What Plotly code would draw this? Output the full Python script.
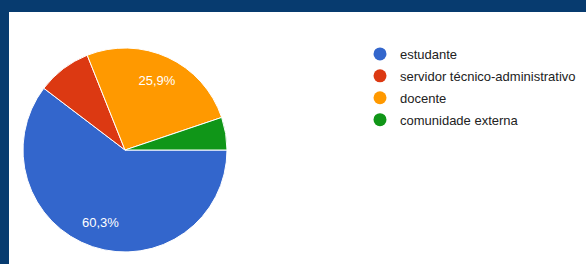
import plotly.graph_objects as go

categories = ["estudante", "servidor técnico-administrativo", "docente", "comunidade externa"]
counts = [35, 5, 15, 3]
colors = ["#3366cc", "#dc3912", "#ff9900", "#109618"]
label_templates = ["%{percent:.1%}", "", "%{percent:.1%}", ""]

W, H = 586, 264
pie_domain = dict(x=[23 / W, 227 / W], y=[1 - 252 / H, 1 - 48 / H])
fig = go.Figure()

# filled pie
fig.add_trace(go.Pie(
    labels=categories, values=counts, sort=False, direction="clockwise", rotation=90,
    marker=dict(colors=colors, line=dict(color="white", width=1)),
    textinfo="none", domain=pie_domain, showlegend=False, hoverinfo="label+percent",
))
# transparent ring carrying the percentage labels (placed at ~0.75 R like the original)
fig.add_trace(go.Pie(
    labels=categories, values=counts, sort=False, direction="clockwise", rotation=90, hole=0.5,
    marker=dict(colors=["rgba(0,0,0,0)"] * 4, line=dict(width=0)),
    texttemplate=label_templates, textposition="inside", insidetextorientation="horizontal",
    textfont=dict(color="white", size=13, family="Liberation Sans, Arial"),
    domain=pie_domain, showlegend=False, hoverinfo="skip",
))

for i, (name, c) in enumerate(zip(categories, colors)):
    fig.add_trace(go.Scatter(
        x=[None], y=[None], mode="markers", name=name, legendgroup=f"g{i}",
        marker=dict(symbol="circle", size=13, color=c),
    ))

fig.update_layout(
    width=W, height=H, margin=dict(l=0, r=0, t=0, b=0),
    paper_bgcolor="#073b6f", plot_bgcolor="rgba(0,0,0,0)",
    separators=",.",
    xaxis=dict(visible=False), yaxis=dict(visible=False),
    shapes=[dict(type="rect", xref="paper", yref="paper", x0=9 / W, x1=1.01, y0=-0.01, y1=1 - 12 / H,
                 fillcolor="white", line=dict(width=0), layer="below")],
    legend=dict(x=360 / W, y=1 - 39 / H, xanchor="left", yanchor="top",
                font=dict(size=13, color="#222222", family="Liberation Sans, Arial"),
                itemsizing="trace", tracegroupgap=2, traceorder="grouped",
                bgcolor="rgba(0,0,0,0)"),
)

fig.write_html("out.html", config={"displayModeBar": False},
               post_script="document.body.style.margin='0';")
